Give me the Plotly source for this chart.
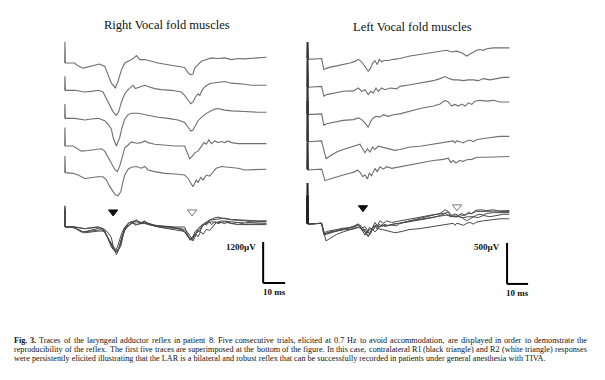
import plotly.graph_objects as go

# ---------------- DATA (ms, µV) ----------------
# Right vocal fold muscles: five consecutive trials
R_t1 = [0, 0.1, 0.3, 4.5, 5.3, 8.3, 12.1, 15.9, 18.2, 19.7, 21.2, 23.0, 24.2, 25.8, 27.3, 29.5, 31.1, 32.6, 34.1, 36.4,
        39.4, 42.4, 47.0, 51.5, 54.5, 56.1, 57.1, 58.3, 59.1, 60.6, 62.1, 64.4, 66.7, 69.7, 72.7, 75.8, 78.8, 81.8, 87.9, 91.7]
R_v1 = [0, 620, 0, 0, -50, -150, -100, -30, -100, -340, -590, -730, -540, -200, 0, 70, 130, 220, 100, 100,
        50, 0, -50, -100, -130, -290, -340, -320, -150, -50, 50, 100, 150, 130, 150, 100, 130, 120, 150, 170]

R_t2 = [0, 0.1, 0.3, 4.5, 6.1, 9.1, 12.1, 15.2, 17.4, 18.9, 20.5, 22.0, 23.5, 24.5, 25.8, 27.3, 28.8, 30.3, 31.1, 32.1,
        34.1, 36.4, 38.6, 40.9, 43.9, 48.5, 53.0, 54.5, 56.1, 57.3, 58.3, 59.4, 60.6, 61.4, 62.4, 63.6, 65.9, 69.7, 72.7,
        75.8, 78.8, 81.8, 84.8, 87.9, 91.7]
R_v2 = [0, 410, 0, 0, -20, -50, -30, 0, -50, -240, -440, -630, -730, -630, -340, -100, 20, 100, 150, 50,
        100, 150, 100, 50, 20, 0, -50, -150, -290, -390, -340, -200, -100, -150, 0, 100, 200, 240, 260,
        210, 200, 180, 150, 150, 150]

R_t3 = [0, 0.1, 0.3, 4.5, 6.1, 9.1, 12.1, 15.2, 18.2, 19.7, 21.2, 22.0, 23.5, 25.0, 26.1, 27.3, 28.8, 30.3, 33.3, 36.4,
        39.4, 42.4, 47.0, 51.5, 54.5, 56.1, 57.3, 58.3, 59.4, 60.6, 62.1, 63.6, 65.9, 68.2, 69.7, 72.7, 75.8, 78.8, 81.8,
        87.9, 91.7]
R_v3 = [0, 420, 0, 0, -20, -50, -20, 0, -70, -170, -310, -560, -810, -560, -260, -20, 110, 150, 150, 110,
        50, 30, 0, -50, -120, -260, -370, -340, -190, -70, 30, 110, 200, 270, 290, 240, 220, 200, 200,
        180, 180]

R_t4 = [0, 0.1, 0.3, 3.8, 6.1, 7.6, 10.6, 13.6, 16.7, 18.2, 19.7, 21.2, 22.7, 23.9, 25.0, 26.1, 27.3, 28.8, 30.3, 32.6,
        34.8, 36.4, 37.9, 40.9, 45.5, 50.0, 54.5, 55.3, 56.1, 56.8, 57.9, 59.1, 60.6, 62.1, 63.3, 64.4, 65.5, 66.7, 68.2,
        69.7, 71.2, 72.7, 74.2, 75.8, 78.8, 84.8, 91.7]
R_v4 = [0, 540, 0, 0, -80, -150, -130, -100, -80, -150, -340, -490, -680, -750, -590, -340, -50, 30, 120, 80,
        100, 150, 100, 50, 20, 0, 0, -150, -240, -370, -300, -200, -150, 0, 100, 50, 180, 70, 150,
        100, 130, 100, 150, 100, 70, 70, 70]

R_t5 = [0, 0.1, 0.3, 3.8, 6.1, 9.1, 12.1, 15.2, 17.4, 18.9, 20.5, 22.0, 23.0, 24.2, 25.5, 26.5, 27.3, 28.8, 30.3, 32.6,
        34.8, 36.4, 37.9, 40.9, 45.5, 50.0, 54.5, 56.1, 57.3, 58.3, 59.1, 59.8, 60.6, 61.8, 62.9, 64.4, 65.9, 67.4, 68.9,
        71.2, 74.2, 78.8, 81.8, 84.8, 87.9, 91.7]
R_v5 = [0, 490, 0, -20, -70, -170, -140, -120, -120, -210, -410, -560, -650, -680, -560, -260, -70, 100, 160, 180,
        130, 180, 80, 30, -20, -40, -70, -170, -310, -410, -310, -210, -290, -140, -210, -70, -100, 30, 130,
        180, 160, 130, 80, 80, 100, 100]

# Left vocal fold muscles: five consecutive trials
L_t1 = [0, 0.1, 0.3, 6.8, 7.9, 9.2, 10.8, 14.0, 17.1, 20.3, 22.7, 24.3, 25.9, 27.5, 29.0, 30.2, 31.1, 32.2, 33.3, 34.3,
        35.4, 36.5, 38.6, 41.0, 44.1, 48.9, 53.7, 60.0, 64.8, 66.3, 68.7, 71.1, 73.5, 75.9, 77.5, 79.0, 80.6, 82.2, 83.8,
        85.4, 88.6, 91.7, 96.2]
L_v1 = [0, 200, -10, 0, -135, -120, -105, -90, -75, -55, -35, -10, -40, -95, -155, -115, -55, -25, -75, -10,
        -40, -25, -25, -10, 0, 30, 50, 70, 90, 100, 80, 90, 70, 30, 55, 80, 100, 110, 100,
        120, 130, 130, 130]

L_t2 = [0, 0.1, 0.3, 6.8, 7.9, 9.2, 12.4, 17.1, 21.9, 24.3, 25.9, 27.5, 29.0, 30.2, 31.4, 32.7, 33.8, 35.4, 37.0, 39.4,
        42.5, 44.1, 48.9, 53.7, 60.0, 63.2, 65.6, 67.1, 69.5, 71.9, 74.3, 76.7, 79.0, 81.4, 83.8, 87.0, 90.2, 93.3, 96.2]
L_v2 = [0, 330, -10, 0, -120, -100, -80, -60, -55, -20, -60, -40, -100, -60, -80, -20, -60, -20, -40, -20,
        -30, 0, 20, 40, 70, 95, 120, 100, 80, 80, 70, 80, 80, 70, 95, 80, 100, 110, 110]

L_t3 = [0, 0.1, 0.3, 6.8, 7.9, 9.2, 12.4, 17.1, 21.9, 24.3, 25.9, 27.5, 29.0, 30.2, 31.4, 32.7, 34.6, 36.2, 38.6, 41.0,
        44.1, 48.9, 53.7, 60.0, 63.2, 65.6, 67.1, 68.7, 70.3, 71.9, 73.5, 75.1, 76.7, 78.3, 79.8, 82.2, 85.4, 88.6, 91.7,
        96.2]
L_v3 = [0, 340, -10, 0, -140, -120, -100, -80, -70, -50, -70, -110, -165, -90, -50, -30, -40, -10, -30, -10,
        0, 30, 65, 95, 120, 165, 145, 95, 115, 95, 120, 95, 135, 115, 155, 165, 155, 165, 145,
        145]

L_t4 = [0, 0.1, 0.3, 6.8, 8.9, 10.8, 14.0, 17.1, 20.3, 23.5, 25.1, 26.3, 27.5, 28.6, 29.8, 31.1, 32.2, 33.8, 36.2, 38.6,
        41.7, 44.1, 48.9, 53.7, 60.0, 64.8, 69.5, 70.3, 71.1, 72.7, 74.3, 75.9, 77.5, 79.0, 80.6, 83.8, 87.0, 91.7, 96.2]
L_v4 = [0, 490, -10, 0, -215, -185, -135, -105, -80, -55, -40, -95, -145, -95, -135, -75, -105, -65, -80, -95,
        -115, -105, -75, -65, -40, -25, 0, -25, 0, -10, -25, 0, 10, -10, 15, 30, 40, 55, 55]

L_t5 = [0, 0.1, 0.3, 6.8, 8.4, 10.8, 14.0, 17.1, 20.3, 22.7, 23.8, 25.1, 26.3, 27.5, 28.6, 29.5, 30.6, 32.2, 33.3, 34.6,
        36.2, 37.8, 40.2, 44.1, 48.9, 53.7, 60.0, 64.8, 67.1, 68.3, 69.5, 70.8, 72.4, 74.3, 75.9, 78.3, 80.6, 85.4, 91.7,
        96.2]
L_v5 = [0, 340, -10, 0, -140, -120, -90, -70, -50, -30, -10, -40, -90, -70, -120, -50, -80, 10, -30, 30,
        0, 30, 10, 30, 55, 80, 105, 120, 135, 80, 105, 75, 105, 95, 115, 120, 145, 145, 155,
        155]

# R1 (black) and R2 (white) response latencies marked on superimposed traces (ms)
R_R1_ms, R_R2_ms = 22.0, 57.9
L_R1_ms, L_R2_ms = 26.5, 71.3

# calibration
R_cal_uV = 1200
L_cal_uV = 500
cal_ms = 10

CAPTION_LINES = [
    "Fig. 3. Traces of the laryngeal adductor reflex in patient 8. Five consecutive trials, elicited at 0.7 Hz to avoid accommodation, are displayed in order to demonstrate the",
    "reproducibility of the reflex. The first five traces are superimposed at the bottom of the figure. In this case, contralateral R1 (black triangle) and R2 (white triangle) responses",
    "were persistently elicited illustrating that the LAR is a bilateral and robust reflex that can be successfully recorded in patients under general anesthesia with TIVA.",
]

# ---------------- LAYOUT CONSTANTS ----------------
# page body has an 8px margin; figure is sized/placed so that it fills the 605x380 window
OFF = 8
W, H = 605 - OFF, 380 - OFF


def fx(p):
    return (p - OFF) / W


def fy(p):
    return 1 - (p - OFF) / H


R_offsets = [4800, 4000, 3180, 2370, 1590, 0]
L_offsets = [2010, 1670, 1335, 1005, 660, 0]
TRACE_COLOR = "#6f6f6f"
SUP_COLOR = "#4a4a4a"
SERIF = "Liberation Serif, Times New Roman, serif"

R_traces = [(R_t1, R_v1), (R_t2, R_v2), (R_t3, R_v3), (R_t4, R_v4), (R_t5, R_v5)]
L_traces = [(L_t1, L_v1), (L_t2, L_v2), (L_t3, L_v3), (L_t4, L_v4), (L_t5, L_v5)]

fig = go.Figure()


def add_panel(traces, offsets, xa, ya, spike_dark):
    for i, (t, v) in enumerate(traces):
        fig.add_trace(go.Scatter(x=t, y=[a + offsets[i] for a in v], mode="lines",
                                 line=dict(color=TRACE_COLOR, width=1.1), xaxis=xa, yaxis=ya,
                                 hoverinfo="skip", showlegend=False))
        if spike_dark:
            fig.add_trace(go.Scatter(x=t[:3], y=[a + offsets[i] for a in v[:3]], mode="lines",
                                     line=dict(color="#333", width=2), xaxis=xa, yaxis=ya,
                                     hoverinfo="skip", showlegend=False))
    for t, v in traces:
        fig.add_trace(go.Scatter(x=t, y=[a + offsets[5] for a in v], mode="lines",
                                 line=dict(color=SUP_COLOR, width=1.0), xaxis=xa, yaxis=ya,
                                 hoverinfo="skip", showlegend=False))
        if spike_dark:
            fig.add_trace(go.Scatter(x=t[:3], y=[a + offsets[5] for a in v[:3]], mode="lines",
                                     line=dict(color="#222", width=2), xaxis=xa, yaxis=ya,
                                     hoverinfo="skip", showlegend=False))


add_panel(R_traces, R_offsets, "x", "y", False)
add_panel(L_traces, L_offsets, "x2", "y2", True)

# triangles
fig.add_trace(go.Scatter(x=[R_R1_ms], y=[440], mode="markers", xaxis="x", yaxis="y", showlegend=False,
                         marker=dict(symbol="triangle-down", size=8, color="#111", line=dict(color="#111", width=1))))
fig.add_trace(go.Scatter(x=[R_R2_ms], y=[440], mode="markers", xaxis="x", yaxis="y", showlegend=False,
                         marker=dict(symbol="triangle-down", size=8, color="white", line=dict(color="#777", width=1))))
fig.add_trace(go.Scatter(x=[L_R1_ms], y=[190], mode="markers", xaxis="x2", yaxis="y2", showlegend=False,
                         marker=dict(symbol="triangle-down", size=8, color="#111", line=dict(color="#111", width=1))))
fig.add_trace(go.Scatter(x=[L_R2_ms], y=[200], mode="markers", xaxis="x2", yaxis="y2", showlegend=False,
                         marker=dict(symbol="triangle-down", size=8, color="white", line=dict(color="#777", width=1))))

# calibration bars
R_bx, R_by = 90.2, -440
L_bx, L_by = 95.1, -240
shapes = [
    dict(type="line", xref="x", yref="y", x0=R_bx, x1=R_bx, y0=R_by, y1=R_by - R_cal_uV, line=dict(color="black", width=2)),
    dict(type="line", xref="x", yref="y", x0=R_bx, x1=R_bx + cal_ms, y0=R_by - R_cal_uV, y1=R_by - R_cal_uV, line=dict(color="black", width=2)),
    dict(type="line", xref="x2", yref="y2", x0=L_bx, x1=L_bx, y0=L_by, y1=L_by - L_cal_uV, line=dict(color="black", width=2)),
    dict(type="line", xref="x2", yref="y2", x0=L_bx, x1=L_bx + cal_ms, y0=L_by - L_cal_uV, y1=L_by - L_cal_uV, line=dict(color="black", width=2)),
]

ann = [
    dict(text="Right Vocal fold muscles", x=fx(167), y=fy(25), xref="paper", yref="paper", showarrow=False,
         font=dict(family=SERIF, size=12.5, color="#111"), xanchor="center", yanchor="middle"),
    dict(text="Left Vocal fold muscles", x=fx(412), y=fy(27), xref="paper", yref="paper", showarrow=False,
         font=dict(family=SERIF, size=12.5, color="#111"), xanchor="center", yanchor="middle"),
    dict(text="<b>%d\u00b5V</b>" % R_cal_uV, x=R_bx, y=R_by - 150, xref="x", yref="y", xanchor="right", xshift=-5,
         yanchor="middle", showarrow=False, font=dict(family=SERIF, size=9, color="#111")),
    dict(text="<b>%d ms</b>" % cal_ms, x=R_bx + cal_ms / 2, y=R_by - R_cal_uV, xref="x", yref="y", xanchor="center",
         yanchor="top", yshift=-2, showarrow=False, font=dict(family=SERIF, size=9, color="#111")),
    dict(text="<b>%d\u00b5V</b>" % L_cal_uV, x=L_bx, y=L_by - 55, xref="x2", yref="y2", xanchor="right", xshift=-5,
         yanchor="middle", showarrow=False, font=dict(family=SERIF, size=9, color="#111")),
    dict(text="<b>%d ms</b>" % cal_ms, x=L_bx + cal_ms / 2, y=L_by - L_cal_uV, xref="x2", yref="y2", xanchor="center",
         yanchor="top", yshift=-2, showarrow=False, font=dict(family=SERIF, size=9, color="#111")),
]

# ---- caption: justified lines (Times / Liberation Serif advance widths, per 1000 em) ----
TIMES_W = {" ": 250, "(": 333, ")": 333, ",": 250, "-": 333, ".": 250, ":": 278}
for ch in "0123456789":
    TIMES_W[ch] = 500
TIMES_W.update(dict(zip("ABCDEFGHIJKLMNOPQRSTUVWXYZ",
                        [722, 667, 667, 722, 611, 556, 722, 722, 333, 389, 722, 611, 889, 722, 722, 556, 722, 667,
                         556, 611, 722, 722, 944, 722, 722, 611])))
TIMES_W.update(dict(zip("abcdefghijklmnopqrstuvwxyz",
                        [444, 500, 444, 500, 444, 333, 500, 500, 278, 278, 500, 278, 778, 500, 500, 500, 500, 333,
                         389, 278, 500, 500, 722, 500, 500, 444])))
BOLD_W = dict(TIMES_W)
BOLD_W.update({"F": 611})

CAP_SIZE = 8.2
CAP_X0, CAP_X1 = 14, 587
cap_y = [340.5, 349.5, 358.5]
CAP_FONT = dict(family=SERIF, size=CAP_SIZE, color="#111")


def word_w(word, bold=False):
    tbl = BOLD_W if bold else TIMES_W
    return sum(tbl.get(c, 500) for c in word) * CAP_SIZE / 1000.0


def cap_ann(txt, xp, yp, anchor):
    return dict(text=txt, x=fx(xp), y=fy(yp), xref="paper", yref="paper", showarrow=False,
                xanchor=anchor, yanchor="middle", font=CAP_FONT, borderpad=0, borderwidth=0)


for k, line in enumerate(CAPTION_LINES):
    words = line.split(" ")
    bold = [k == 0 and i < 2 for i in range(len(words))]
    if k < len(CAPTION_LINES) - 1:
        widths = [word_w(w, b) for w, b in zip(words, bold)]
        gap = (CAP_X1 - CAP_X0 - sum(widths)) / (len(words) - 1)
        x = CAP_X0
        for i, (w, b) in enumerate(zip(words, bold)):
            txt = "<b>%s</b>" % w if b else w
            if i == len(words) - 1:
                ann.append(cap_ann(txt, CAP_X1, cap_y[k], "right"))
            else:
                ann.append(cap_ann(txt, x, cap_y[k], "left"))
            x += widths[i] + gap
    else:
        ann.append(cap_ann(line, CAP_X0, cap_y[k], "left"))

fig.update_layout(
    width=W, height=H, margin=dict(l=0, r=0, t=0, b=0),
    paper_bgcolor="white", plot_bgcolor="white", showlegend=False,
    xaxis=dict(domain=[fx(40), fx(290)], range=[-11.23, 102.4], visible=False),
    yaxis=dict(domain=[fy(300), fy(30)], range=[-2137, 5766], visible=False),
    xaxis2=dict(domain=[fx(295), fx(535)], range=[-5.86, 108.4], visible=False),
    yaxis2=dict(domain=[fy(300), fy(30)], range=[-936, 2358], visible=False),
    shapes=shapes, annotations=ann,
)

fig.write_html("out.html")
